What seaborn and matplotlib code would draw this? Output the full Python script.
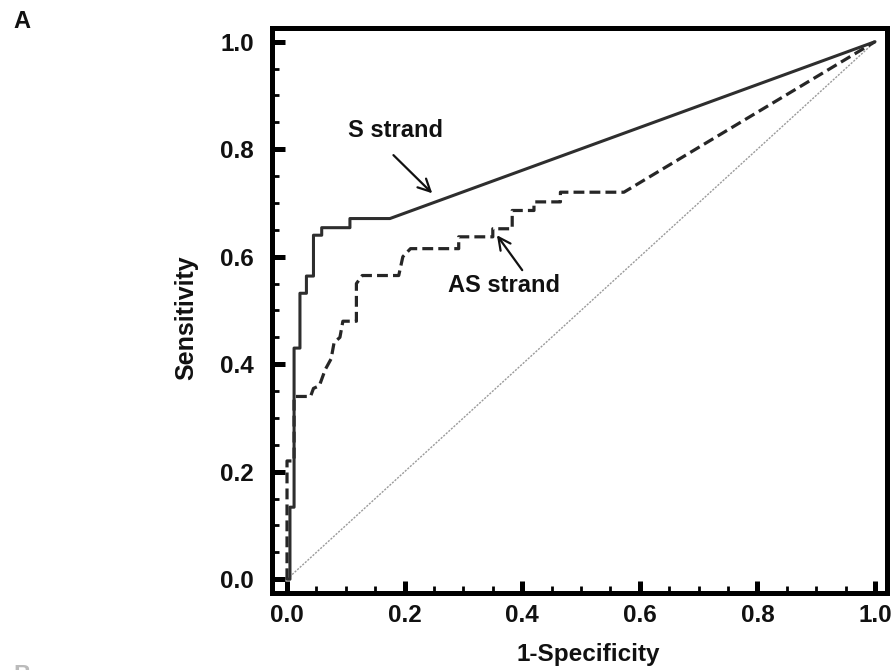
import matplotlib
matplotlib.use("Agg")
import matplotlib.pyplot as plt
from matplotlib.ticker import MultipleLocator
import seaborn as sns
import pandas as pd

# ---- data ----
s_fpr = [0.0, 0.005, 0.005, 0.012, 0.012, 0.022, 0.022, 0.033, 0.033, 0.045, 0.045,
         0.059, 0.059, 0.107, 0.107, 0.175, 1.0]
s_tpr = [0.0, 0.0, 0.134, 0.134, 0.43, 0.43, 0.532, 0.532, 0.564, 0.564, 0.64,
         0.64, 0.654, 0.654, 0.671, 0.671, 1.0]

as_fpr = [0.0, 0.0, 0.012, 0.012, 0.04, 0.045, 0.055, 0.06, 0.065, 0.075, 0.08, 0.09,
          0.095, 0.118, 0.118, 0.128, 0.19, 0.197, 0.21, 0.292, 0.292, 0.35, 0.35,
          0.383, 0.383, 0.42, 0.42, 0.465, 0.465, 0.573, 1.0]
as_tpr = [0.0, 0.22, 0.22, 0.34, 0.34, 0.355, 0.36, 0.375, 0.39, 0.41, 0.44, 0.45,
          0.48, 0.48, 0.55, 0.565, 0.565, 0.60, 0.615, 0.615, 0.637, 0.637, 0.652,
          0.652, 0.686, 0.686, 0.702, 0.702, 0.72, 0.72, 1.0]

diag = [0.0, 1.0]

x_ticks = [0.0, 0.2, 0.4, 0.6, 0.8, 1.0]
y_ticks = [0.0, 0.2, 0.4, 0.6, 0.8, 1.0]

sns.set_theme(style="white")
plt.rcParams["font.family"] = ["Liberation Sans", "DejaVu Sans"]
plt.rcParams["font.weight"] = "bold"

fig = plt.figure(figsize=(8.91, 6.70), dpi=100)
ax = fig.add_axes([0.3053, 0.1149, 0.6902, 0.8433])

df_s = pd.DataFrame({"x": s_fpr, "y": s_tpr})
df_as = pd.DataFrame({"x": as_fpr, "y": as_tpr})
df_d = pd.DataFrame({"x": diag, "y": diag})

sns.lineplot(data=df_d, x="x", y="y", ax=ax, sort=False, estimator=None,
             color="#9a9a9a", lw=1.0, dashes=False)
ax.lines[-1].set_linestyle((0, (1.5, 1.0)))
sns.lineplot(data=df_as, x="x", y="y", ax=ax, sort=False, estimator=None,
             color="#262626", lw=2.3)
ax.lines[-1].set_linestyle((0, (3.4, 1.6)))
sns.lineplot(data=df_s, x="x", y="y", ax=ax, sort=False, estimator=None,
             color="#2e2e2e", lw=2.2)

ax.set_xlim(-0.0255, 1.0204)
ax.set_ylim(-0.0257, 1.0255)
ax.set_xticks(x_ticks)
ax.set_yticks(y_ticks)
ax.set_xticklabels([f"{v:.1f}" for v in x_ticks])
ax.set_yticklabels([f"{v:.1f}" for v in y_ticks])
ax.xaxis.set_minor_locator(MultipleLocator(0.05))
ax.yaxis.set_minor_locator(MultipleLocator(0.05))

ax.tick_params(which="major", direction="in", length=9, width=3.6, color="black",
               labelsize=17.5, bottom=True, left=True, top=False, right=False)
ax.tick_params(axis="x", which="major", pad=8)
ax.tick_params(axis="y", which="major", pad=13)
ax.tick_params(which="minor", direction="in", length=5, width=2.0, color="black",
               bottom=True, left=True, top=False, right=False)
for lab in ax.get_xticklabels() + ax.get_yticklabels():
    lab.set_fontweight("bold")
    lab.set_color("#111111")

for sp in ax.spines.values():
    sp.set_visible(True)
    sp.set_linewidth(3.6)
    sp.set_color("black")

ax.set_xlabel("1-Specificity", fontsize=17.5, fontweight="bold", color="#111111")
ax.set_ylabel("Sensitivity", fontsize=18, fontweight="bold", color="#111111")
ax.xaxis.set_label_coords(0.515, -0.0885)
ax.yaxis.set_label_coords(-0.12, 0.487)

ax.text(0.184, 0.822, "S strand", ha="center", va="baseline", fontsize=17,
        fontweight="bold", color="#111111")
ax.annotate("", xy=(0.247, 0.718), xytext=(0.181, 0.789),
            arrowprops=dict(arrowstyle="->", lw=1.6, color="#111111",
                            mutation_scale=22, shrinkA=0, shrinkB=0))
ax.text(0.274, 0.5345, "AS strand", ha="left", va="baseline", fontsize=17,
        fontweight="bold", color="#111111")
ax.annotate("", xy=(0.357, 0.640), xytext=(0.400, 0.575),
            arrowprops=dict(arrowstyle="->", lw=1.6, color="#111111",
                            mutation_scale=22, shrinkA=0, shrinkB=0))

fig.text(0.0146, 0.958, "A", ha="left", va="baseline", fontsize=17,
         fontweight="bold", color="#111111")
fig.text(0.0146, 0.009, "B", ha="left", va="top", fontsize=17,
         fontweight="bold", color="#bbbbbb")

fig.savefig("out.png", dpi=100, facecolor="white")
